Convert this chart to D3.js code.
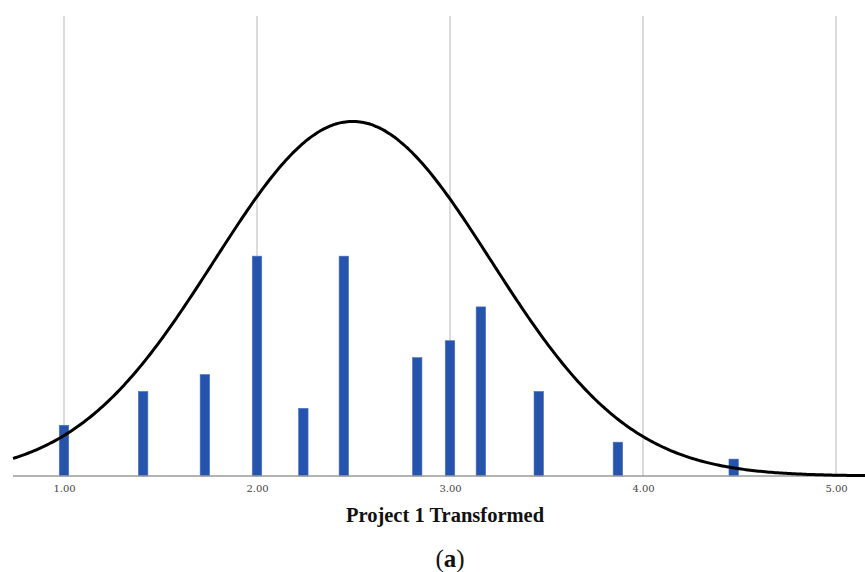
<!DOCTYPE html>
<html><head><meta charset="utf-8">
<script src="https://cdn.jsdelivr.net/npm/d3@7"></script>
<style>body{margin:0;background:#fff}svg{display:block}</style>
</head><body>
<script>
// Data
const binValues = [1.00, 1.41, 1.73, 2.00, 2.24, 2.45, 2.83, 3.00, 3.16, 3.46, 3.87, 4.47];
const binCounts = [3, 5, 6, 13, 4, 13, 7, 8, 10, 5, 2, 1];
const tickValues = [1, 2, 3, 4, 5];
const tickLabels = ["1.00", "2.00", "3.00", "4.00", "5.00"];
const xTitle = "Project 1 Transformed";
const caption = "a";
const curveBinWidth = 0.49;

const W = 865, H = 572;
const svg = d3.select("body").append("svg").attr("width", W).attr("height", H);

const x = d3.scaleLinear().domain([1, 5]).range([64, 836]);
const y = d3.scaleLinear().domain([0, 27.2]).range([476, 16]);
const xMin = x.invert(13), xMax = x.invert(865);

// Normal fit
const N = d3.sum(binCounts);
const mean = d3.sum(binValues.map((v, i) => v * binCounts[i])) / N;
const varS = d3.sum(binValues.map((v, i) => binCounts[i] * (v - mean) ** 2)) / (N - 1);
const sd = Math.sqrt(varS);

// gridlines
svg.append("g").selectAll("line").data(tickValues).join("line")
  .attr("x1", d => x(d)).attr("x2", d => x(d))
  .attr("y1", y.range()[1]).attr("y2", y(0))
  .attr("stroke", "#cfcfcf").attr("stroke-width", 1.5);

// bars
const bw = 9.5;
svg.append("g").selectAll("rect").data(binValues).join("rect")
  .attr("x", d => x(d) - bw / 2).attr("width", bw)
  .attr("y", (d, i) => y(binCounts[i])).attr("height", (d, i) => y(0) - y(binCounts[i]))
  .attr("fill", "#2654ad").attr("stroke", "#4a74c4").attr("stroke-width", 0.6);

// axis
const axis = d3.axisBottom(x).tickValues(tickValues).tickFormat((d, i) => tickLabels[i]).tickSize(0).tickPadding(9);
const ag = svg.append("g").attr("transform", `translate(0,${y(0)})`).call(axis);
ag.select(".domain").attr("d", `M13,0H865`).attr("stroke", "#9a9a9a").attr("stroke-width", 1.5);
ag.selectAll("text").attr("font-family", "DejaVu Serif, serif").attr("font-size", 10).attr("fill", "#444");

// normal curve
const pts = d3.range(0, 401).map(k => {
  const v = xMin + (xMax - xMin) * k / 400;
  const dens = Math.exp(-0.5 * ((v - mean) / sd) ** 2) / (sd * Math.sqrt(2 * Math.PI));
  return [v, N * curveBinWidth * dens];
});
svg.append("path").datum(pts)
  .attr("d", d3.line().x(d => x(d[0])).y(d => y(d[1])).curve(d3.curveBasis))
  .attr("fill", "none").attr("stroke", "#000").attr("stroke-width", 3);

// titles
svg.append("text").attr("x", 445).attr("y", 522).attr("text-anchor", "middle")
  .attr("font-family", "Liberation Serif, serif").attr("font-weight", "bold").attr("font-size", 20.5)
  .attr("fill", "#111").text(xTitle);
const cap = svg.append("text").attr("x", 450).attr("y", 567).attr("text-anchor", "middle")
  .attr("font-family", "Liberation Serif, serif").attr("font-size", 25).attr("fill", "#111");
cap.append("tspan").text("(");
cap.append("tspan").attr("font-weight", "bold").text(caption);
cap.append("tspan").text(")");
</script>
</body></html>
